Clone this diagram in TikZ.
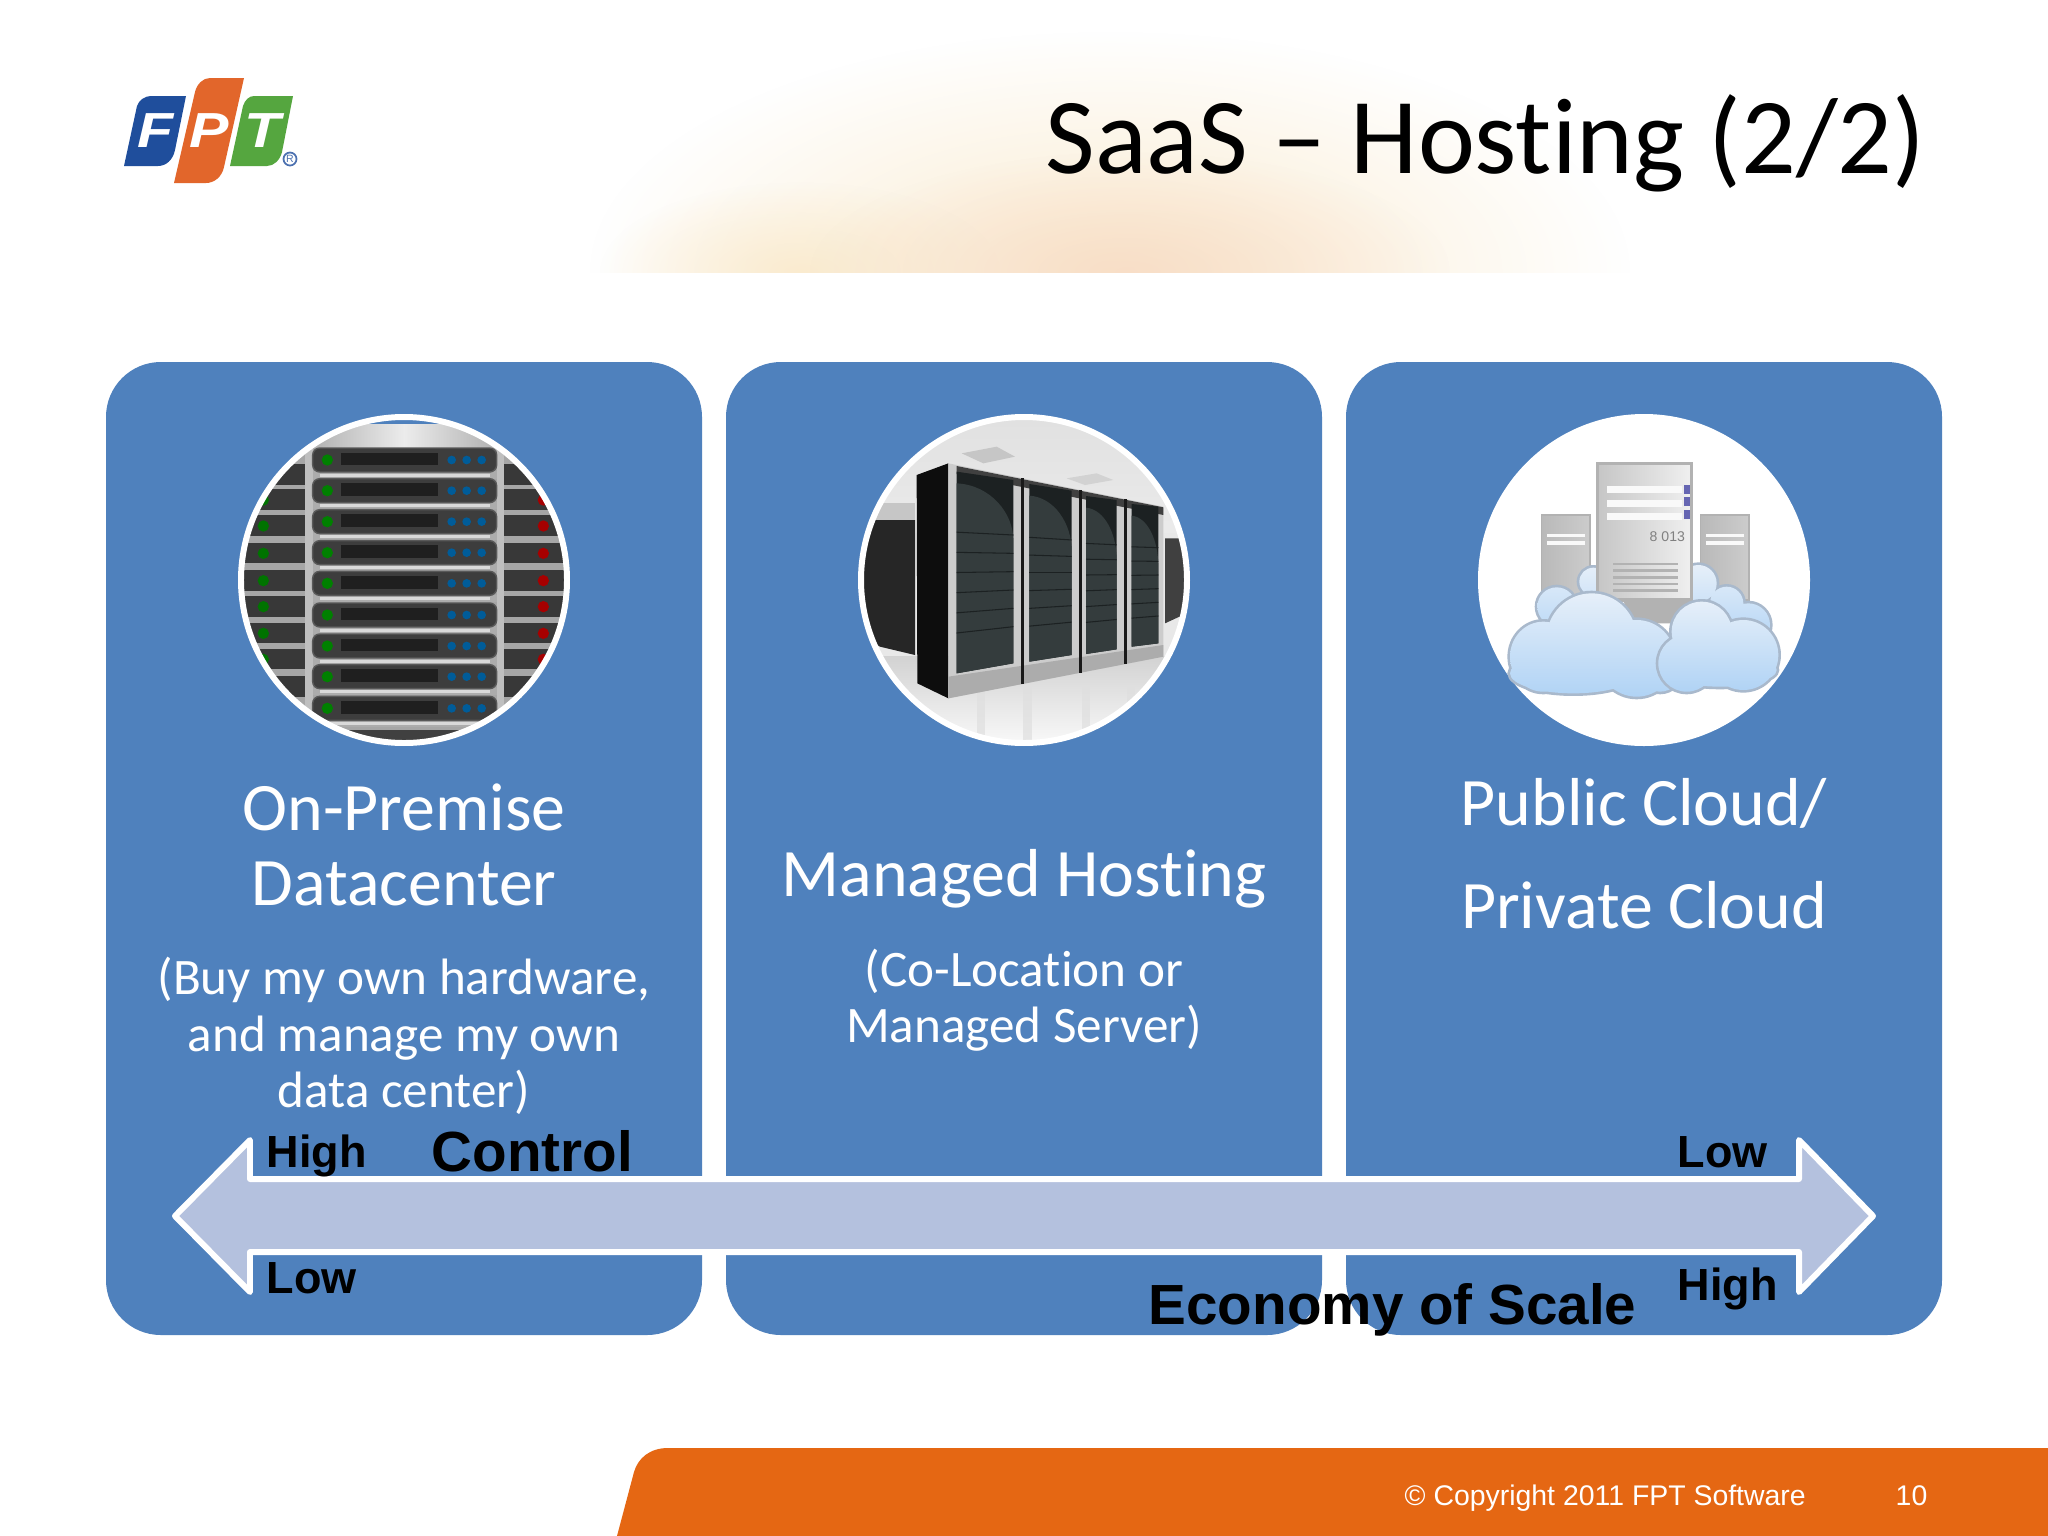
\documentclass[tikz,border=0pt]{standalone}
\usepackage{fontspec}
\setmainfont[Ligatures=NoCommon]{Carlito}
\newfontfamily\axisfont{Liberation Sans}
\usetikzlibrary{fadings}
\definecolor{cardblue}{HTML}{4F81BD}
\definecolor{bandblue}{HTML}{B4C1DE}
\definecolor{footorange}{HTML}{E56713}
\definecolor{logoblue}{HTML}{1F4E9C}
\definecolor{logogreen}{HTML}{55A63F}
\definecolor{logoorange}{HTML}{E2662B}
\definecolor{glowpale}{HTML}{FAEBCF}
\definecolor{glowdeep}{HTML}{F8D9C4}
\definecolor{cloudtop}{HTML}{E6EFF9}
\definecolor{cloudlow}{HTML}{B0D3F5}
\definecolor{cloudline}{HTML}{A9B9CC}
\definecolor{glassdark}{HTML}{1C2122}
\definecolor{glasslight}{HTML}{343C3D}
\tikzfading[name=glowfade,inner color=transparent!0,outer color=transparent!100]
\tikzset{
  card/.style={fill=cardblue,rounded corners=15.6pt},
  ring/.style={draw=white,line width=1.7pt},
  headtext/.style={text=white,align=center,inner sep=0pt,font=\fontsize{19.3}{21.3}\selectfont},
  subtext/.style={text=white,align=center,inner sep=0pt,font=\fontsize{14.55}{16}\selectfont},
  axistext/.style={anchor=base west,inner sep=0pt,font=\axisfont\bfseries\fontsize{12.8}{15}\selectfont},
  axistitle/.style={anchor=base west,inner sep=0pt,font=\axisfont\bfseries\fontsize{16.1}{19}\selectfont},
  foottext/.style={anchor=base west,inner sep=0pt,text=white,font=\axisfont\fontsize{8.08}{10}\selectfont},
  logoletter/.style={text=white,inner sep=0pt,xscale=1.2,font=\axisfont\bfseries\itshape\fontsize{14}{14}\selectfont},
  cloudrim/.style={draw=cloudline,line width=1.5pt,fill=cloudline},
  cloudbody/.style={top color=cloudtop,bottom color=cloudlow},
}
\begin{document}
\begin{tikzpicture}[x=0.01cm,y=-0.01cm]
  \useasboundingbox (0,0) rectangle (2048,1536);
  \fill[white] (0,0) rectangle (2048,1536);
  \begin{scope}
    \clip (500,0) rectangle (1700,272);
    \fill[glowpale,path fading=glowfade] (1110,272) ellipse (520 and 240);
    \fill[glowpale,path fading=glowfade] (800,272) ellipse (200 and 90);
    \fill[glowdeep,opacity=0.7,path fading=glowfade] (1130,272) ellipse (320 and 120);
  \end{scope}
  \fill[logoblue] (124,166) -- (137,106) .. controls (139,100) and (145,96) .. (151,96) -- (186,96) -- (175,150) .. controls (173,160) and (166,166) .. (158,166) -- cycle;
  \fill[logoorange] (174,183) -- (195,92) .. controls (197,84) and (203,78) .. (210,78) -- (244,78) -- (224,167) .. controls (222,177) and (214,183) .. (206,183) -- cycle;
  \fill[logogreen] (230,166) -- (243,106) .. controls (245,100) and (249,96) .. (254,96) -- (293,96) -- (282,152) .. controls (280,160) and (274,166) .. (267,166) -- cycle;
  \node[logoletter] (letterf) at (156,131) {F};
  \node[logoletter] (letterp) at (209,131) {P};
  \node[logoletter] (lettert) at (263,131) {T};
  \draw[logoblue!80,line width=0.5pt] (290,159) circle (6.5);
  \node[text=logoblue!80,inner sep=0pt,font=\axisfont\fontsize{3}{3}\selectfont] (logomark) at (290,159) {R};
  \node[anchor=base west,inner sep=0pt,font=\fontsize{30.7}{34}\selectfont] (title) at (1045,173) {SaaS -- Hosting (2/2)};
  \fill[card] (106,362) rectangle (702,1335);
  \fill[card] (726,362) rectangle (1322,1335);
  \fill[card] (1346,362) rectangle (1942,1335);
  \begin{scope}
    \clip (404,580) circle (163);
    \begin{scope}[shift={(220,400)},scale=1/3]
      \fill[gray!70] (40,40) rectangle (1040,1040);
      \fill[cardblue] (40,40) rectangle (1040,72);
      \shade[left color=gray!65,right color=gray!65,middle color=gray!15] (255,72) rectangle (850,142);
      \fill[gray!50] (255,142) rectangle (278,1040);
      \fill[gray!50] (830,142) rectangle (852,1040);
      \foreach \cy in {225,300,378,460,542,620,700,778,860} {
        \fill[black!78] (40,\cy-32) rectangle (255,\cy+30);
        \fill[black!78] (852,\cy-32) rectangle (1040,\cy+30);
        \fill[green!45!black] (130,\cy) circle (17);
        \fill[red!65!black] (970,\cy) circle (17);
      }
      \foreach \cy in {180,272,365,458,550,645,738,830,925} {
        \fill[gray!65] (278,\cy+34) rectangle (830,\cy+56);
        \fill[gray!30] (300,\cy+41) rectangle (810,\cy+50);
        \draw[fill=black!76,draw=black!65,rounded corners=2pt] (278,\cy-36) rectangle (830,\cy+36);
        \fill[black!88] (362,\cy-22) rectangle (655,\cy+16);
        \fill[green!50!black] (322,\cy) circle (17);
        \foreach \ledx in {695,740,785} {
          \fill[blue!40!cyan!60!black] (\ledx,\cy) circle (13);
        }
      }
      \fill[black!75] (278,990) rectangle (830,1040);
    \end{scope}
  \end{scope}
  \draw[ring] (404,580) circle (163);
  \begin{scope}
    \clip (1024,580) circle (163);
    \begin{scope}[shift={(840,400)},scale=1/3]
      \shade[top color=gray!24,bottom color=gray!16] (40,40) rectangle (1040,400);
      \fill[gray!18] (40,400) rectangle (1040,770);
      \shade[top color=gray!35,bottom color=gray!4] (40,770) rectangle (1040,1040);
      \fill[gray!45] (365,160) -- (470,140) -- (525,170) -- (430,190) -- cycle;
      \fill[gray!35] (680,235) -- (770,220) -- (820,240) -- (735,255) -- cycle;
      \fill[gray!45] (40,310) rectangle (225,360);
      \fill[black!85] (40,360) -- (225,360) -- (225,765) -- (120,740) -- (40,690) -- cycle;
      \fill[black!75] (975,415) -- (1040,415) -- (1040,640) -- (975,670) -- cycle;
      \foreach \glowx in {410,550,725,860} {
        \fill[gray!25,opacity=0.7] (\glowx,850) rectangle (\glowx+25,1040);
      }
      \fill[black!95] (230,225) -- (325,190) -- (325,895) -- (232,850) -- cycle;
      \fill[gray!40] (325,190) -- (970,320) -- (970,770) -- (325,895) -- cycle;
      \fill[gray!65] (325,830) -- (970,735) -- (970,770) -- (325,895) -- cycle;
      \fill[black!75] (350,198) -- (970,322) -- (970,345) -- (350,222) -- cycle;
      \foreach \gl/\gr/\tl/\tr/\bl/\br in {350/520/215/240/820/790,568/695/252/272/785/765,738/830/288/300/762/748,875/955/312/320/740/730} {
        \fill[glassdark] (\gl,\tl) -- (\gr,\tr) -- (\gr,\br) -- (\gl,\bl) -- cycle;
        \fill[glasslight] (\gl,\tl+35) .. controls (\gl+0.6*\gr-0.6*\gl,\tl+40) and (\gr,\tr+100) .. (\gr,\tr+180) -- (\gr,\br) -- (\gl,\bl) -- cycle;
        \foreach \fr in {0.3,0.4,0.5,0.6,0.7,0.8} {
          \draw[glassdark,line width=0.3pt] (\gl,\tl+\fr*\bl-\fr*\tl) -- (\gr,\tr+\fr*\br-\fr*\tr);
        }
      }
      \foreach \gapx/\gtop/\gbot in {547/235/852,722/271/818,857/298/792} {
        \draw[black!90,line width=0.7pt] (\gapx,\gtop) -- (\gapx,\gbot);
      }
    \end{scope}
  \end{scope}
  \draw[ring] (1024,580) circle (163);
  \fill[white] (1644,580) circle (166);
  \begin{scope}[shift={(1460,400)},scale=1/3]
    \foreach \sx in {245,722} {
      \shade[left color=gray!55,right color=gray!40,draw=gray!60] (\sx,345) rectangle (\sx+145,600);
      \fill[gray!5] (\sx+15,403) rectangle (\sx+130,412);
      \fill[gray!5] (\sx+15,422) rectangle (\sx+130,434);
    }
    \path[cloudrim] (400,545) circle (42) (290,620) circle (58) (715,550) circle (55) (800,610) circle (50) (865,675) circle (65);
    \path[cloudbody] (400,545) circle (42) (290,620) circle (58) (715,550) circle (55) (800,610) circle (50) (865,675) circle (65);
    \fill[gray!60] (490,600) -- (690,600) -- (640,670) -- (510,670) -- cycle;
    \shade[left color=gray!45,right color=gray!12,draw=gray!60,line width=1pt] (412,190) rectangle (695,600);
    \foreach \sy in {258,300,340} {
      \fill[gray!5] (440,\sy) rectangle (665,\sy+20);
    }
    \foreach \sy in {268,305,343} {
      \fill[black!50!blue!60] (672,\sy-13) rectangle (690,\sy+13);
    }
    \foreach \sy in {488,508,528,548,568} {
      \fill[gray!60] (460,\sy) rectangle (655,\sy+8);
    }
    \node[inner sep=0pt,text=gray,font=\axisfont\fontsize{4}{4}\selectfont] (unitcode) at (622,410) {8 013};
    \path[cloudrim] (395,715) circle (135) (250,770) ellipse (100 and 105) (530,775) circle (115) (600,810) circle (65) (340,820) ellipse (190 and 60);
    \path[cloudbody] (395,715) circle (135) (250,770) ellipse (100 and 105) (530,775) circle (115) (600,810) circle (65) (340,820) ellipse (190 and 60);
    \path[cloudrim] (725,695) circle (90) (850,765) circle (105) (680,790) circle (85) (780,810) ellipse (170 and 50);
    \path[cloudbody] (725,695) circle (90) (850,765) circle (105) (680,790) circle (85) (780,810) ellipse (170 and 50);
  \end{scope}
  \node[headtext] (premhead) at (404,845) {On-Premise\\Datacenter};
  \node[subtext] (premsub) at (404,1036) {(Buy my own hardware,\\and manage my own\\data center)};
  \node[headtext] (hosthead) at (1024,879) {Managed Hosting};
  \node[subtext] (hostsub) at (1024,1000) {(Co-Location or\\Managed Server)};
  \node[headtext,font=\fontsize{19.3}{29.3}\selectfont] (cloudhead) at (1644,854) {Public Cloud/\\Private Cloud};
  \draw[fill=bandblue,draw=white,line width=1.7pt,line join=round] (175,1216) -- (250,1140) -- (250,1179) -- (1799,1179) -- (1799,1140) -- (1873,1216) -- (1799,1292) -- (1799,1252) -- (250,1252) -- (250,1292) -- cycle;
  \node[axistext] (ctlhigh) at (266,1167) {High};
  \node[axistitle] (ctltitle) at (431,1171) {Control};
  \node[axistext] (ctllow) at (266,1293) {Low};
  \node[axistext] (scalelow) at (1677,1167) {Low};
  \node[axistext] (scalehigh) at (1677,1300) {High};
  \node[axistitle] (scaletitle) at (1148,1324) {Economy of Scale};
  \fill[footorange] (2048,1448) -- (668,1448) .. controls (650,1448) and (638,1458) .. (634,1472) -- (617,1536) -- (2048,1536) -- cycle;
  \node[foottext] (copyright) at (1404,1505) {© Copyright 2011 FPT Software};
  \node[foottext] (pagenum) at (1895,1505) {10};
\end{tikzpicture}
\end{document}
